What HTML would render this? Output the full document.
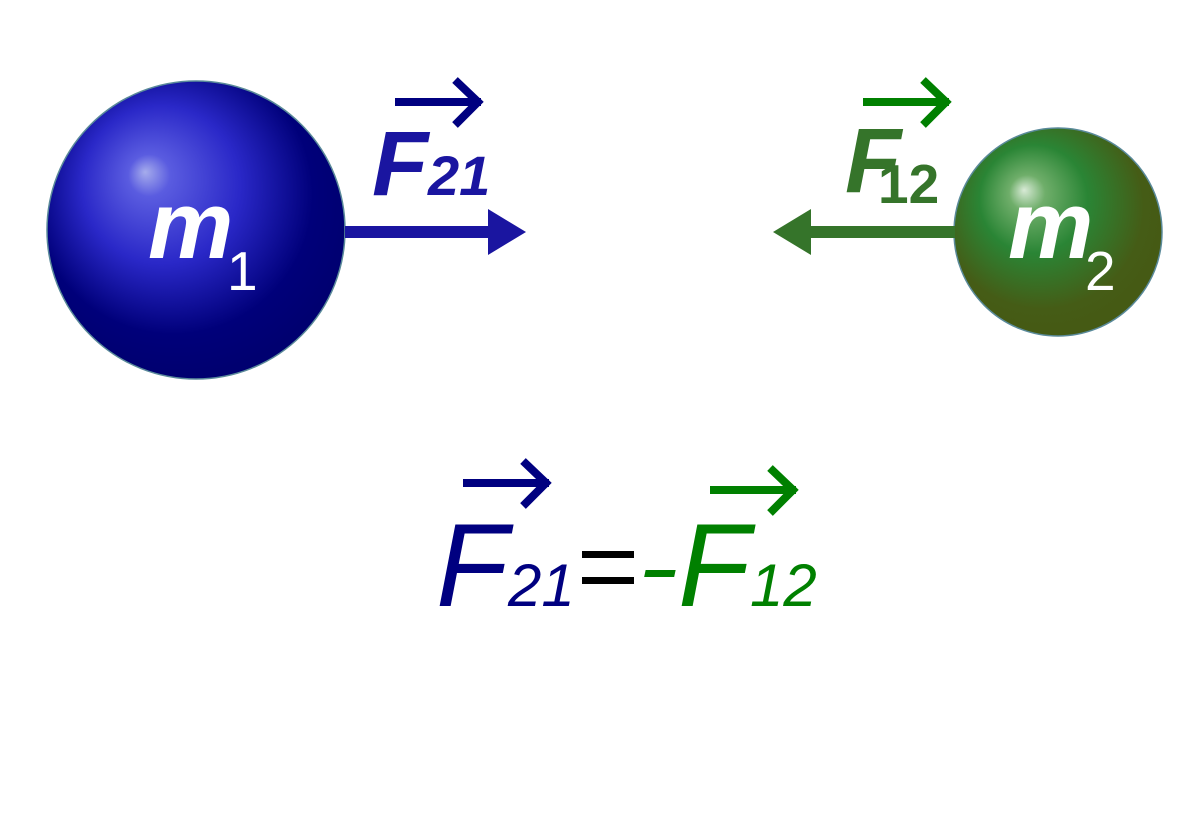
<!DOCTYPE html>
<html><head><meta charset="utf-8"><style>
html,body{margin:0;padding:0;background:#fff;}
svg{display:block;}
text{font-family:"Liberation Sans",sans-serif;}
</style></head><body>
<svg width="1200" height="840" viewBox="0 0 1200 840" xmlns="http://www.w3.org/2000/svg">
<defs>
<radialGradient id="g1" cx="180" cy="200" r="175" fx="145" fy="172" gradientUnits="userSpaceOnUse">
<stop offset="0" stop-color="#a6acec"/>
<stop offset="0.12" stop-color="#5a5ce0"/>
<stop offset="0.45" stop-color="#2a28c8"/>
<stop offset="0.8" stop-color="#00007a"/>
<stop offset="1" stop-color="#000070"/>
</radialGradient>
<radialGradient id="g2" cx="1045" cy="210" r="120" fx="1024" fy="190" gradientUnits="userSpaceOnUse">
<stop offset="0" stop-color="#d8ead6"/>
<stop offset="0.15" stop-color="#6fae6a"/>
<stop offset="0.45" stop-color="#2a8535"/>
<stop offset="0.85" stop-color="#455c16"/>
<stop offset="1" stop-color="#455a14"/>
</radialGradient>
</defs>
<circle cx="196" cy="230" r="149" fill="url(#g1)" stroke="#5a8a9a" stroke-width="1.5"/>
<circle cx="1058" cy="232" r="104" fill="url(#g2)" stroke="#5a8a9a" stroke-width="1.5"/>
<text x="148" y="258" font-size="96" font-weight="bold" font-style="italic" fill="#fff">m</text>
<text x="227" y="290" font-size="55" fill="#fff">1</text>
<text x="1008" y="258" font-size="96" font-weight="bold" font-style="italic" fill="#fff">m</text>
<text x="1085" y="290" font-size="55" fill="#fff">2</text>
<rect x="345" y="226" width="145" height="12" fill="#1a15a0"/>
<polygon points="488,209 526,232 488,255" fill="#1a15a0"/>
<rect x="808" y="226" width="147" height="12" fill="#35742a"/>
<polygon points="773,232 811,209 811,255" fill="#35742a"/>
<rect x="395" y="98" width="86" height="8" fill="#000080"/>
<polyline points="455,80 478,102 455,125" fill="none" stroke="#000080" stroke-width="8"/>
<text x="372" y="195" font-size="92" font-weight="bold" font-style="italic" fill="#1a15a0">F</text>
<text x="428" y="195" font-size="56" font-weight="bold" font-style="italic" fill="#1a15a0">21</text>
<rect x="863" y="98" width="86" height="8" fill="#008000"/>
<polyline points="923,80 946,102 923,125" fill="none" stroke="#008000" stroke-width="8"/>
<text x="845" y="192" font-size="92" font-weight="bold" font-style="italic" fill="#35742a">F</text>
<text x="878" y="203" font-size="55" font-weight="bold" fill="#35742a">12</text>
<rect x="463" y="479" width="86" height="8" fill="#000080"/>
<polyline points="523,461 546,483 523,506" fill="none" stroke="#000080" stroke-width="8"/>
<rect x="710" y="486" width="86" height="8" fill="#008000"/>
<polyline points="770,468 793,490 770,513" fill="none" stroke="#008000" stroke-width="8"/>
<text x="436" y="606" font-size="118" font-style="italic" fill="#000080">F</text>
<text x="508" y="606" font-size="60" font-style="italic" fill="#000080">21</text>
<rect x="582" y="551" width="52" height="7" fill="#000"/>
<rect x="582" y="577" width="52" height="7" fill="#000"/>
<rect x="645" y="570" width="30" height="7" fill="#008000" transform="skewX(-12)" transform-origin="660 573"/>
<text x="678" y="606" font-size="118" font-style="italic" fill="#008000">F</text>
<text x="750" y="606" font-size="60" font-style="italic" fill="#008000">12</text>
</svg>
</body></html>
